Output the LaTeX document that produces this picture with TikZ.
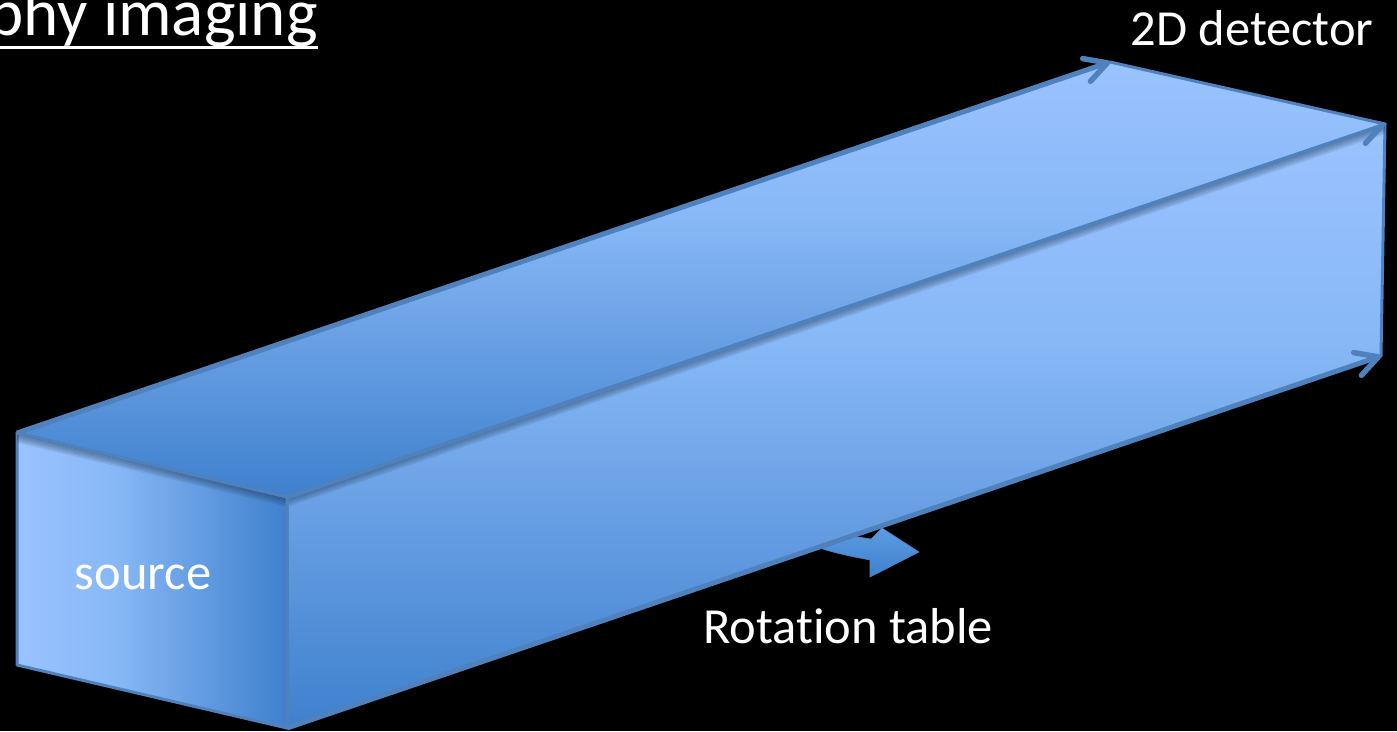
\documentclass[tikz,border=0pt]{standalone}
\usepackage{fontspec}
\setmainfont[Ligatures=NoCommon]{Carlito}
\usetikzlibrary{arrows.meta}

\definecolor{edgeblue}{HTML}{4F81BD}
\definecolor{faceLight}{HTML}{9AC3FF}
\definecolor{faceMid}{HTML}{88B8F6}
\definecolor{faceDark}{HTML}{3F80CD}
\definecolor{tipTop}{HTML}{5C9CE2}
\pgfdeclareverticalshading{faceV}{100bp}{
  color(0bp)=(faceDark); color(25bp)=(faceDark);
  color(57bp)=(faceMid); color(75bp)=(faceLight); color(100bp)=(faceLight)}
\pgfdeclarehorizontalshading{faceH}{100bp}{
  color(0bp)=(faceLight); color(25bp)=(faceLight);
  color(43bp)=(faceMid); color(75bp)=(faceDark); color(100bp)=(faceDark)}

\begin{document}
\begin{tikzpicture}[
  x=1pt, y=-1pt,
  % Face styles
  vface/.style={shading=faceV, draw=edgeblue, line width=3pt, line join=round},
  hface/.style={shading=faceH, draw=edgeblue, line width=3pt, line join=round},
  % Arrow style
  beam/.style={draw=edgeblue, line width=5pt,
    -{Straight Barb[length=22pt, width=24pt, line width=5.5pt, round]}},
  % Shadow along an edge
  edgeshade/.style={draw=black!60!edgeblue, opacity=0.1},
  % Label style
  whitelabel/.style={text=white, font=\fontsize{50.5}{54}\selectfont, inner sep=0pt, anchor=base}
]

%% ── Background ───────────────────────────────────────────────
\fill[black] (0,0) rectangle (1397,731);
\useasboundingbox (0,0) rectangle (1397,731);

%% ── Corners of the box ───────────────────────────────────────
\coordinate (srcTL) at (17,433);
\coordinate (srcTR) at (287,497);
\coordinate (srcBL) at (17,665);
\coordinate (srcBR) at (287,728);
\coordinate (detTL) at (1110,62);
\coordinate (detTR) at (1385,124);
\coordinate (detBR) at (1381,356);

%% ── Rotation arrow, behind the box ───────────────────────────
\shade[top color=tipTop, bottom color=faceDark, draw=edgeblue, line width=0.6pt]
  (800,540) .. controls (825,552) and (850,556) .. (870,560)
  -- (870,577) -- (919,552) -- (882,528) -- (871,539) -- (858,537) -- cycle;

%% ── Faces and arrows: source → detector ──────────────────────
\path[vface] (srcTR) -- (detTR) -- (detBR) -- (srcBR) -- cycle;
\begin{scope}
  \clip (srcTR) -- (detTR) -- (detBR) -- (srcBR) -- cycle;
  \foreach \w in {7,10,13,16,19}
    \draw[edgeshade, line width=\w pt] (srcTR) -- (detTR);
\end{scope}
\draw[beam] (srcBR) -- (detBR);
\draw[beam] (srcTR) -- (detTR);
\path[vface] (srcTL) -- (detTL) -- (detTR) -- (srcTR) -- cycle;
\draw[beam] (srcTL) -- (detTL);
\path[hface] (srcTL) -- (srcTR) -- (srcBR) -- (srcBL) -- cycle;
\begin{scope}
  \clip (srcTL) -- (srcTR) -- (srcBR) -- (srcBL) -- cycle;
  \foreach \w in {7,10,13,16,19}
    \draw[edgeshade, line width=\w pt] (srcTL) -- (srcTR);
\end{scope}
\draw[edgeblue, line width=3pt] (srcTL) -- (srcTR) -- (srcBR);

%% ── Labels ───────────────────────────────────────────────────
\node[whitelabel] (source)   at (143,589) {source};
\node[whitelabel] (table)    at (848,643) {Rotation table};
\node[whitelabel] (detector) at (1252,45) {2D detector};
\node[whitelabel, anchor=base east, font=\fontsize{67}{70}\selectfont] (title) at (318,35) {phy imaging};
\draw[white, line width=3pt] (0,47) -- (318,47);

\end{tikzpicture}
\end{document}
